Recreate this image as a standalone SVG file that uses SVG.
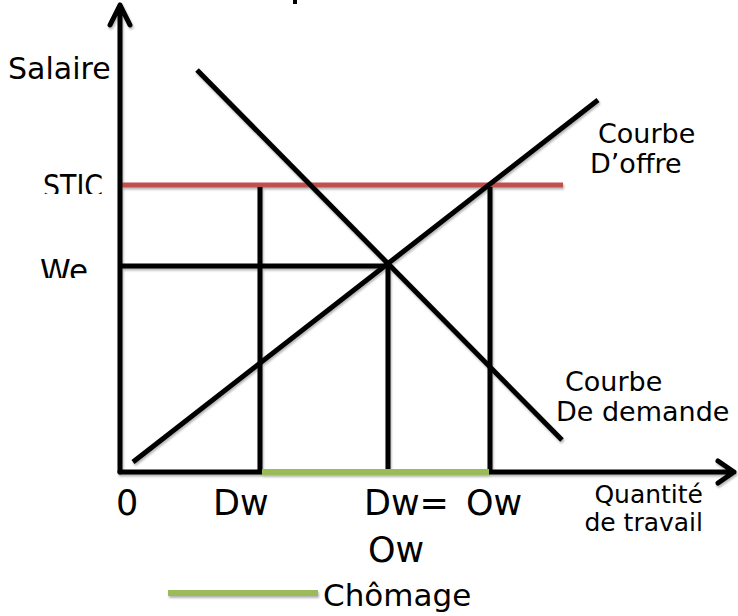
<svg xmlns="http://www.w3.org/2000/svg" width="738" height="616" viewBox="0 0 738 616">
<style>
  text { font-family: "DejaVu Sans", "Liberation Sans", sans-serif; fill: #000; }
  .blk { stroke: #000; stroke-width: 5; fill: none; stroke-linecap: butt; }
  .ax { stroke: #000; stroke-width: 5; fill: none; stroke-linecap: round; stroke-linejoin: round; }
  .red { stroke: #C0504D; stroke-width: 5; fill: none; }
  .grn { stroke: #9BBB59; stroke-width: 6; fill: none; }
  .lbl { font-size: 27px; }
  .ax-lbl { font-size: 35px; }
  .q { font-size: 25px; }
</style>
<defs>
  <filter id="sh" x="-5%" y="-5%" width="110%" height="110%">
    <feGaussianBlur in="SourceAlpha" stdDeviation="1"/>
    <feOffset dx="1" dy="2" result="b"/>
    <feComponentTransfer><feFuncA type="linear" slope="0.3"/></feComponentTransfer>
    <feMerge><feMergeNode/><feMergeNode in="SourceGraphic"/></feMerge>
  </filter>
  <clipPath id="cS"><rect x="0" y="160" width="115" height="34"/></clipPath>
  <clipPath id="cW"><rect x="0" y="245" width="115" height="33"/></clipPath>
</defs>
<rect width="738" height="616" fill="#fff"/>
<rect x="293" y="0" width="4" height="4" fill="#000"/>
<g id="connectors" filter="url(#sh)">
  <line id="red-stic" class="red" x1="122" y1="185" x2="563" y2="185"/>
  <line class="blk" x1="122" y1="266" x2="388" y2="266"/>
  <line class="blk" x1="260" y1="187" x2="260" y2="472"/>
  <line class="blk" x1="490" y1="187" x2="490" y2="472"/>
  <line class="blk" x1="388" y1="264" x2="388" y2="472"/>
  <line id="offre" class="blk" x1="133" y1="462" x2="598" y2="100"/>
  <line id="demande" class="blk" x1="197" y1="70" x2="562" y2="440"/>
  <path id="y-axis" class="ax" d="M120 472 V5 M110 25 L120 5 L130 25"/>
  <path id="x-axis" class="ax" d="M120 472 H734 M718 461 L734 472 L718 483"/>
  <line id="chomage" class="grn" x1="262" y1="472" x2="489" y2="472"/>
  <line id="legend-line" class="grn" x1="168" y1="593" x2="318" y2="593"/>
</g>
<g id="label-salaire"><text x="8" y="79" font-size="30">Salaire</text></g>
<g id="label-stic" clip-path="url(#cS)"><text x="43" y="197" font-size="32" textLength="60" lengthAdjust="spacingAndGlyphs">STIC</text></g>
<g id="label-we" clip-path="url(#cW)"><text x="40" y="282" font-size="32" textLength="48" lengthAdjust="spacingAndGlyphs">We</text></g>
<g id="label-offre"><text class="lbl" x="598" y="143">Courbe</text><text class="lbl" x="590" y="173">D’offre</text></g>
<g id="label-demande"><text class="lbl" x="565" y="391">Courbe</text><text class="lbl" x="556" y="421">De demande</text></g>
<g id="label-0"><text class="ax-lbl" x="116" y="515">0</text></g>
<g id="label-dw"><text class="ax-lbl" x="213" y="515">Dw</text></g>
<g id="label-dwow"><text class="ax-lbl" x="364" y="515">Dw=</text><text class="ax-lbl" x="466" y="515">Ow</text><text class="ax-lbl" x="368" y="562">Ow</text></g>
<g id="label-quantite"><text class="q" x="703" y="503" text-anchor="end">Quantité</text><text class="q" x="703" y="531" text-anchor="end">de travail</text></g>
<g id="legend"><text x="323" y="606" font-size="31">Chômage</text></g>
</svg>
